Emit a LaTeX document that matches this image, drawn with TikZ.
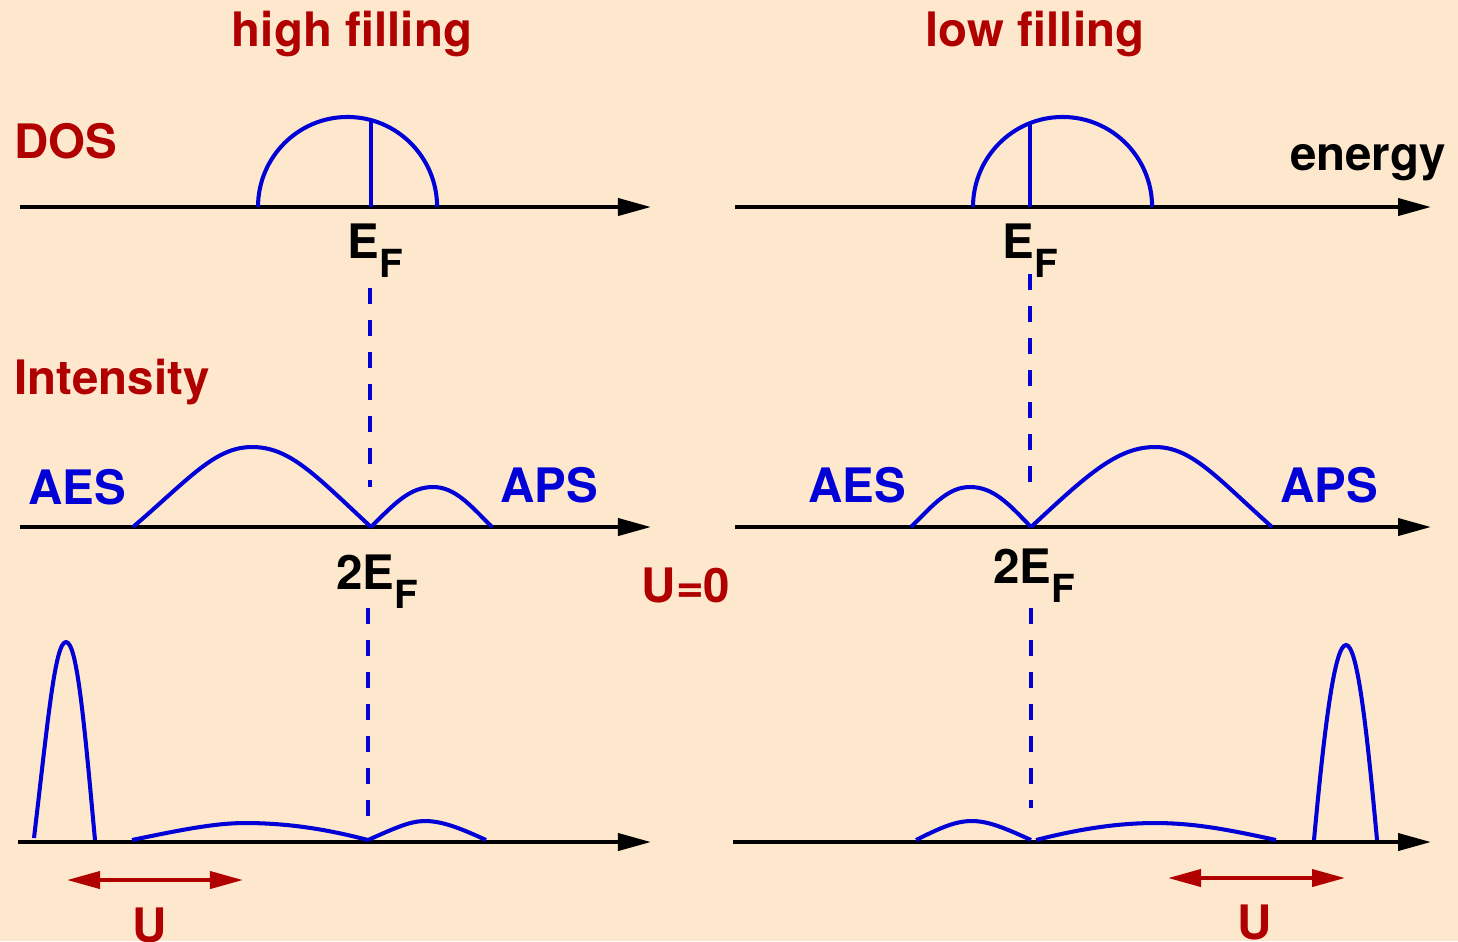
\documentclass[tikz,border=0pt]{standalone}
\usepackage{fontspec}
\setmainfont{TeX Gyre Heros}
\usetikzlibrary{arrows.meta}
\definecolor{bg}{RGB}{253,232,205}
\definecolor{dred}{RGB}{176,0,0}
\definecolor{cblue}{RGB}{0,0,215}
\begin{document}
\begin{tikzpicture}[x=0.01cm,y=-0.01cm,
  axis/.style={line width=1.1pt,black,-{Triangle[length=0.33cm,width=0.17cm]}},
  curve/.style={line width=1.15pt,cblue},
  dashline/.style={line width=1.15pt,cblue,dash pattern=on 0.16cm off 0.16cm},
  uarrow/.style={line width=1.1pt,dred,{Triangle[length=0.33cm,width=0.17cm]}-{Triangle[length=0.33cm,width=0.17cm]}},
  redlab/.style={text=dred,font=\fontsize{13.5}{16}\selectfont\bfseries,inner sep=0pt},
  bluelab/.style={text=cblue,font=\fontsize{13.5}{16}\selectfont\bfseries,inner sep=0pt},
  blacklab/.style={text=black,font=\fontsize{13.5}{16}\selectfont\bfseries,inner sep=0pt}]
\fill[bg] (0,0) rectangle (1458,941);
\useasboundingbox (0,0) rectangle (1458,941);
% titles
\node[redlab] (hf) at (352,34) {high filling};
\node[redlab] (lf) at (1035,34) {low filling};
\node[redlab,anchor=west] (dos) at (14,141) {DOS};
\node[redlab,anchor=west] (int) at (14,382) {Intensity};
\node[blacklab] (en) at (1368,163) {energy};
\node[redlab] (u0) at (686,585) {U=0};
% axes coordinates
\coordinate (a1s) at (20,207); \coordinate (a1e) at (651,207);
\coordinate (b1s) at (735,207); \coordinate (b1e) at (1431,207);
\coordinate (a2s) at (20,527); \coordinate (a2e) at (651,527);
\coordinate (b2s) at (735,527); \coordinate (b2e) at (1431,527);
\coordinate (a3s) at (18,842); \coordinate (a3e) at (651,842);
\coordinate (b3s) at (733,842); \coordinate (b3e) at (1431,842);
\draw[axis] (a1s) -- (a1e);
\draw[axis] (b1s) -- (b1e);
\draw[axis] (a2s) -- (a2e);
\draw[axis] (b2s) -- (b2e);
\draw[axis] (a3s) -- (a3e);
\draw[axis] (b3s) -- (b3e);
% DOS
\coordinate (d1) at (258,207);
\draw[curve] (d1) arc[start angle=180,end angle=0,x radius=0.895cm,y radius=0.9cm];
\coordinate (f1t) at (371,120.5); \coordinate (f1b) at (371,207);
\draw[curve] (f1t) -- (f1b);
\coordinate (d2) at (973,207);
\draw[curve] (d2) arc[start angle=180,end angle=0,x radius=0.895cm,y radius=0.9cm];
\coordinate (f2t) at (1030,123); \coordinate (f2b) at (1030,207);
\draw[curve] (f2t) -- (f2b);
% EF labels
\node[blacklab] (ef1) at (376,251) {E\textsubscript{\fontsize{11}{12}\selectfont\raisebox{-0.55ex}{F}}};
\node[blacklab] (ef2) at (1031,251) {E\textsubscript{\fontsize{11}{12}\selectfont\raisebox{-0.55ex}{F}}};
\node[blacklab] (tef1) at (378,582) {2E\textsubscript{\fontsize{11}{12}\selectfont\raisebox{-0.55ex}{F}}};
\node[blacklab] (tef2) at (1035,576) {2E\textsubscript{\fontsize{11}{12}\selectfont\raisebox{-0.55ex}{F}}};
% dashed lines
\coordinate (da1) at (370,288); \coordinate (da2) at (370,487);
\draw[dashline] (da1) -- (da2);
\coordinate (db1) at (1030,274); \coordinate (db2) at (1030,487);
\draw[dashline] (db1) -- (db2);
\coordinate (dc1) at (368,608); \coordinate (dc2) at (368,820);
\draw[dashline] (dc1) -- (dc2);
\coordinate (dd1) at (1031,608); \coordinate (dd2) at (1031,808);
\draw[dashline] (dd1) -- (dd2);
% AES/APS
\node[bluelab] (aes1) at (77,487) {AES};
\node[bluelab] (aps1) at (549,485) {APS};
\node[bluelab] (aes2) at (857,485) {AES};
\node[bluelab] (aps2) at (1329,485) {APS};
% row 2 left
\draw[curve] (133,527) .. controls (190,478) and (215,447) .. (252,447)
  .. controls (290,447) and (315,475) .. (371,527);
\draw[curve] (371,527) .. controls (395,503) and (410,487) .. (433,487)
  .. controls (455,487) and (470,505) .. (492,527);
% row 2 right
\draw[curve] (911,527) .. controls (933,505) and (948,487) .. (970,487)
  .. controls (993,487) and (1008,503) .. (1031,527);
\draw[curve] (1031,527) .. controls (1087,475) and (1117,447) .. (1155,447)
  .. controls (1192,447) and (1217,478) .. (1272,527);
% row 3 left
\draw[curve] (34,838) .. controls (48,720) and (55,642) .. (66,642)
  .. controls (77,642) and (84,720) .. (95,840);
\draw[curve] (132,840) .. controls (180,830) and (215,823) .. (245,823)
  .. controls (290,823) and (330,830) .. (368,840);
\draw[curve] (368,840) .. controls (395,828) and (410,821) .. (425,821)
  .. controls (442,821) and (460,828) .. (486,840);
% row 3 right
\draw[curve] (916,840) .. controls (940,828) and (955,821) .. (972,821)
  .. controls (988,821) and (1005,828) .. (1031,840);
\draw[curve] (1036,840) .. controls (1075,830) and (1115,823) .. (1155,823)
  .. controls (1195,823) and (1230,830) .. (1276,840);
\draw[curve] (1314,840) .. controls (1325,720) and (1335,645) .. (1346,645)
  .. controls (1357,645) and (1366,720) .. (1377,840);
% U arrows
\coordinate (u1a) at (67,880); \coordinate (u1b) at (243,880);
\draw[uarrow] (u1a) -- (u1b);
\node[redlab] (u1) at (150,925) {U};
\coordinate (u2a) at (1168,878); \coordinate (u2b) at (1345,878);
\draw[uarrow] (u2a) -- (u2b);
\node[redlab] (u2) at (1255,922) {U};
\end{tikzpicture}
\end{document}
